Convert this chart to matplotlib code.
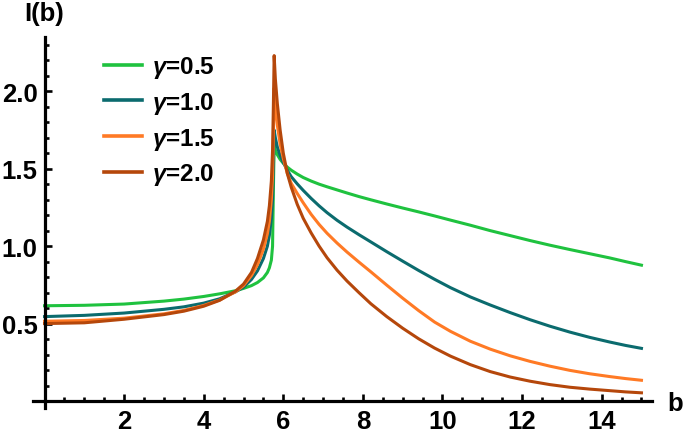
import numpy as np
import matplotlib
matplotlib.use("Agg")
import matplotlib.pyplot as plt
from matplotlib.ticker import MultipleLocator

# ----------------------------------------------------------
#  data
# ----------------------------------------------------------
b = [0, 1, 2, 3, 3.5, 4, 4.4, 4.8, 5.0, 5.2, 5.35, 5.5, 5.6, 5.65, 5.7,
     5.73, 5.75, 5.77, 5.8, 5.85, 5.92, 6.0, 6.1, 6.2, 6.35, 6.5, 6.7, 6.9,
     7.1, 7.35, 7.6, 7.9, 8.2, 8.6, 9.0, 9.4, 9.8, 10.2, 10.7, 11.2, 11.7,
     12.2, 12.7, 13.2, 13.7, 14.2, 14.6, 15.0]

I_g05 = [0.615, 0.618, 0.626, 0.645, 0.658, 0.675, 0.692, 0.712, 0.727,
         0.745, 0.765, 0.795, 0.83, 0.86, 0.91, 1.0, 1.35, 1.66, 1.62, 1.59,
         1.56, 1.535, 1.51, 1.49, 1.465, 1.443, 1.42, 1.40, 1.383, 1.363,
         1.343, 1.32, 1.299, 1.272, 1.246, 1.221, 1.195, 1.168, 1.135, 1.1,
         1.068, 1.036, 1.006, 0.978, 0.951, 0.924, 0.9, 0.877]
I_g10 = [0.545, 0.553, 0.568, 0.592, 0.608, 0.632, 0.66, 0.705, 0.735,
         0.785, 0.84, 0.92, 1.0, 1.07, 1.18, 1.3, 1.5, 1.75, 1.70, 1.64,
         1.585, 1.54, 1.49, 1.448, 1.402, 1.36, 1.308, 1.26, 1.216, 1.167,
         1.123, 1.074, 1.027, 0.964, 0.903, 0.843, 0.786, 0.732, 0.672,
         0.62, 0.571, 0.525, 0.483, 0.445, 0.411, 0.381, 0.359, 0.34]
I_g15 = [0.515, 0.52, 0.535, 0.563, 0.585, 0.617, 0.652, 0.705, 0.745,
         0.81, 0.88, 0.98, 1.08, 1.16, 1.30, 1.45, 1.7, 2.02, 1.90, 1.78,
         1.66, 1.565, 1.47, 1.405, 1.34, 1.28, 1.205, 1.14, 1.083, 1.02,
         0.962, 0.897, 0.834, 0.748, 0.664, 0.584, 0.51, 0.45, 0.386, 0.335,
         0.292, 0.256, 0.225, 0.198, 0.176, 0.158, 0.145, 0.134]
I_g20 = [0.50, 0.505, 0.528, 0.558, 0.58, 0.612, 0.65, 0.71, 0.755, 0.83,
         0.92, 1.04, 1.16, 1.26, 1.42, 1.62, 1.9, 2.23, 2.08, 1.92, 1.75,
         1.6, 1.47, 1.38, 1.27, 1.18, 1.085, 1.0, 0.925, 0.845, 0.775,
         0.70, 0.628, 0.545, 0.47, 0.402, 0.342, 0.29, 0.235, 0.19, 0.155,
         0.128, 0.106, 0.089, 0.077, 0.067, 0.059, 0.053]

labels = ["0.5", "1.0", "1.5", "2.0"]
colors = ["#1fc23f", "#0b6b6e", "#ff7a25", "#b5470b"]

# ----------------------------------------------------------
#  plot
# ----------------------------------------------------------
plt.rcParams["font.family"] = ["Liberation Sans", "DejaVu Sans"]
plt.rcParams["font.weight"] = "bold"
plt.rcParams["mathtext.fontset"] = "custom"
plt.rcParams["mathtext.it"] = "Liberation Sans:italic:bold"
plt.rcParams["mathtext.rm"] = "Liberation Sans:bold"

W, H = 685, 435
fig = plt.figure(figsize=(W / 100, H / 100), dpi=100)

x0, x1 = -0.3, 15.26
y0, y1 = -0.045, 2.35
left_px, right_px = 32.6, 651.8
bot_px, top_px = 409, 38
ax = fig.add_axes([left_px / W, (H - bot_px) / H,
                   (right_px - left_px) / W, (bot_px - top_px) / H])

for vals, lab, col in zip([I_g05, I_g10, I_g15, I_g20], labels, colors):
    ax.plot(b, vals, color=col, lw=2.2, label=r"$\gamma$=" + lab,
            solid_joinstyle="round")

ax.set_xlim(x0, x1)
ax.set_ylim(y0, y1)

ax.spines["top"].set_visible(False)
ax.spines["right"].set_visible(False)
ax.spines["left"].set_position(("data", 0))
ax.spines["bottom"].set_position(("data", 0))
for s in ["left", "bottom"]:
    ax.spines[s].set_linewidth(2.3)

ax.set_xticks([2, 4, 6, 8, 10, 12, 14])
ax.set_yticks([0.5, 1.0, 1.5, 2.0])
ax.set_yticklabels(["0.5", "1.0", "1.5", "2.0"])
ax.xaxis.set_minor_locator(MultipleLocator(0.5))
ax.yaxis.set_minor_locator(MultipleLocator(0.1))
ax.tick_params(which="major", direction="in", length=5, width=1.9,
               labelsize=18.5, pad=6)
ax.tick_params(which="minor", direction="in", length=3, width=1.9)
ax.tick_params(axis="y", pad=5)

fig.text(24 / W, 1 - 14 / H, "I(b)", fontsize=18.5, fontweight="bold",
         ha="left", va="center")
fig.text(667 / W, 1 - 404 / H, "b", fontsize=18.5, fontweight="bold",
         ha="left", va="center")

leg = ax.legend(loc="upper left", bbox_to_anchor=(92 / W, 1 - 43 / H),
                bbox_transform=fig.transFigure, frameon=False,
                fontsize=17.5, handlelength=1.56, handletextpad=0.42,
                labelspacing=0.4, borderpad=0)
for line in leg.get_lines():
    line.set_linewidth(2.6)

fig.savefig("out.png", dpi=100)
